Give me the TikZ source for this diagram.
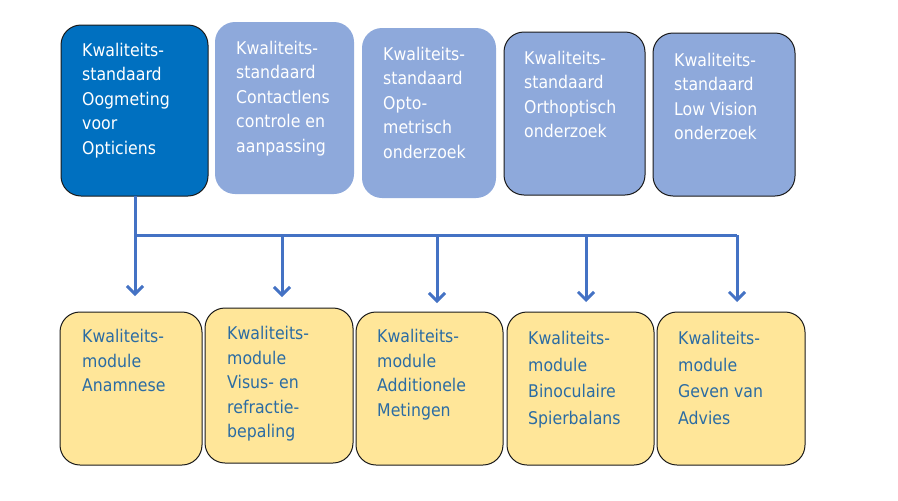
\documentclass[tikz,border=0pt]{standalone}
\usepackage{fontspec}
\setmainfont{DejaVu Sans}[FakeStretch=0.9]
\usetikzlibrary{arrows.meta}
\definecolor{darkblue}{HTML}{0070C0}
\definecolor{lightblue}{HTML}{8EA9DB}
\definecolor{paleyellow}{HTML}{FFE699}
\definecolor{modtext}{HTML}{2B6CA3}
\definecolor{linkblue}{HTML}{4472C4}
\definecolor{edgecol}{HTML}{1A1A1A}
\begin{document}
\begin{tikzpicture}[x=1pt,y=-1pt,
  box/.style={rectangle, rounded corners=20pt, inner sep=0pt, outer sep=0pt},
  edged/.style={draw=edgecol, line width=1pt},
  stdbox/.style={box, fill=lightblue},
  modbox/.style={box, edged, fill=paleyellow},
  lbl/.style={anchor=north west, inner sep=0pt, align=left, text=white,
              font=\fontsize{17.5}{24.5}\selectfont},
  modlbl/.style={lbl, text=modtext},
  link/.style={draw=linkblue, line width=3pt},
  arr/.style={link, -{Straight Barb[length=8pt,width=16pt,line width=3pt]}}
]
\useasboundingbox (0,0) rectangle (898,501);

% top row
\node[box, edged, fill=darkblue, minimum width=147pt, minimum height=171pt] (t1) at (134.5,110.5) {};
\node[stdbox, minimum width=139pt, minimum height=172pt] (t2) at (284.5,108) {};
\node[stdbox, minimum width=134pt, minimum height=170pt] (t3) at (429,113) {};
\node[stdbox, edged, minimum width=141pt, minimum height=163pt] (t4) at (574.5,113.5) {};
\node[stdbox, edged, minimum width=142pt, minimum height=163pt] (t5) at (724,114.5) {};

\node[lbl] (t1x) at (82,43) {Kwaliteits-\\standaard\\Oogmeting\\voor\\Opticiens};
\node[lbl] (t2x) at (236,41) {Kwaliteits-\\standaard\\Contactlens\\controle en\\aanpassing};
\node[lbl] (t3x) at (383,47) {Kwaliteits-\\standaard\\Opto-\\metrisch\\onderzoek};
\node[lbl] (t4x) at (524,51) {Kwaliteits-\\standaard\\Orthoptisch\\onderzoek};
\node[lbl] (t5x) at (674,53) {Kwaliteits-\\standaard\\Low Vision\\onderzoek};

% bottom row
\node[modbox, minimum width=142pt, minimum height=153pt] (b1) at (131,388.5) {};
\node[modbox, minimum width=148pt, minimum height=155pt] (b2) at (279,385.5) {};
\node[modbox, minimum width=147pt, minimum height=153pt] (b3) at (429.5,388.5) {};
\node[modbox, minimum width=147pt, minimum height=153pt] (b4) at (580.5,388.5) {};
\node[modbox, minimum width=148pt, minimum height=153pt] (b5) at (731,388.5) {};

\node[modlbl] (b1x) at (82,329) {Kwaliteits-\\module\\Anamnese};
\node[modlbl] (b2x) at (227,326) {Kwaliteits-\\module\\Visus- en\\refractie-\\bepaling};
\node[modlbl] (b3x) at (377,329) {Kwaliteits-\\module\\Additionele\\Metingen};
\node[modlbl, font=\fontsize{17.5}{26.5}\selectfont] (b4x) at (528,331) {Kwaliteits-\\module\\Binoculaire\\Spierbalans};
\node[modlbl, font=\fontsize{17.5}{26.5}\selectfont] (b5x) at (678,331) {Kwaliteits-\\module\\Geven van\\Advies};

% connectors
\coordinate (j1) at (135,235);
\coordinate (j2) at (282,235);
\coordinate (j3) at (437,235);
\coordinate (j4) at (586,235);
\coordinate (j5) at (737,235);
\coordinate (e1) at (135,296);
\coordinate (e2) at (282,297);
\coordinate (e3) at (437,303);
\coordinate (e4) at (586,302);
\coordinate (e5) at (737,302);

\draw[link] (t1.south -| j1) -- (j1) -- (j5);
\draw[arr] (j1) -- (e1);
\draw[arr] (j2) -- (e2);
\draw[arr] (j3) -- (e3);
\draw[arr] (j4) -- (e4);
\draw[arr] (j5) -- (e5);
\end{tikzpicture}
\end{document}
